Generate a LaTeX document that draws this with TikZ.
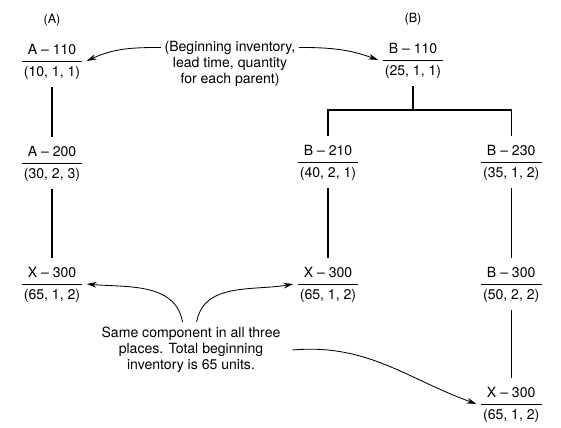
\documentclass[tikz,border=0pt]{standalone}
\usepackage{fontspec}
\setmainfont{TeX Gyre Heros}
\usetikzlibrary{arrows.meta}
\newcommand{\partbox}[2]{\renewcommand{\arraystretch}{1.3}\begin{tabular}{@{\,}c@{\,}}#1\\\hline #2\end{tabular}}
\begin{document}
\begin{tikzpicture}[
    part/.style={inner sep=1pt, outer sep=2pt, font=\fontsize{10}{12}\selectfont},
    note/.style={align=center, font=\fontsize{10}{11.5}\selectfont},
    tag/.style={font=\fontsize{9}{11}\selectfont},
    link/.style={line width=0.9pt},
    arrow/.style={-{Stealth[length=7pt,width=4pt]}, semithick}
]
\useasboundingbox (0,0) rectangle (14.025,-10.675);

% Tree (A)
\node[tag] (lblA) at (1.3,-0.5) {(A)};
\node[part] (a110) at (1.3,-1.525) {\partbox{A – 110}{(10, 1, 1)}};
\node[part] (a200) at (1.3,-4.075) {\partbox{A – 200}{(30, 2, 3)}};
\node[part] (xa) at (1.3,-7.1) {\partbox{X – 300}{(65, 1, 2)}};

\draw[link] (a110) -- (a200);
\draw[link] (a200) -- (xa);

% Tree (B)
\node[tag] (lblB) at (10.325,-0.475) {(B)};
\node[part] (b110) at (10.325,-1.5) {\partbox{B – 110}{(25, 1, 1)}};
\node[part] (b210) at (8.2,-4.05) {\partbox{B – 210}{(40, 2, 1)}};
\node[part] (b230) at (12.78,-4.05) {\partbox{B – 230}{(35, 1, 2)}};
\node[part] (xb) at (8.2,-7.1) {\partbox{X – 300}{(65, 1, 2)}};
\node[part] (b300) at (12.78,-7.1) {\partbox{B – 300}{(50, 2, 2)}};
\node[part] (xc) at (12.78,-10.1) {\partbox{X – 300}{(65, 1, 2)}};
\coordinate (bsplit) at (10.325,-2.75);

\draw[link] (b110) -- (bsplit);
\draw[link] (b210.north) |- (bsplit) -| (b230.north);
\draw[link] (b210) -- (xb);
\draw[link] (b230) -- (b300);
\draw[link] (b300) -- (xc);

% Notes
\node[note] (note1) at (5.75,-1.6) {(Beginning inventory,\\lead time, quantity\\for each parent)};
\node[note] (note2) at (4.775,-8.75) {Same component in all three\\places. Total beginning\\inventory is 65 units.};

\draw[arrow] ([xshift=1pt,yshift=-8pt]note1.north west) to[out=180,in=25] (a110.east);
\draw[arrow] ([xshift=-1pt,yshift=-8pt]note1.north east) to[out=0,in=160] (b110.west);
\draw[arrow] ([xshift=-6pt]note2.north) to[out=100,in=-5] (xa.east);
\draw[arrow] ([xshift=4pt]note2.north) to[out=80,in=190] (xb.west);
\draw[arrow] ([xshift=5pt]note2.east) to[out=5,in=160] (xc.west);
\end{tikzpicture}
\end{document}
